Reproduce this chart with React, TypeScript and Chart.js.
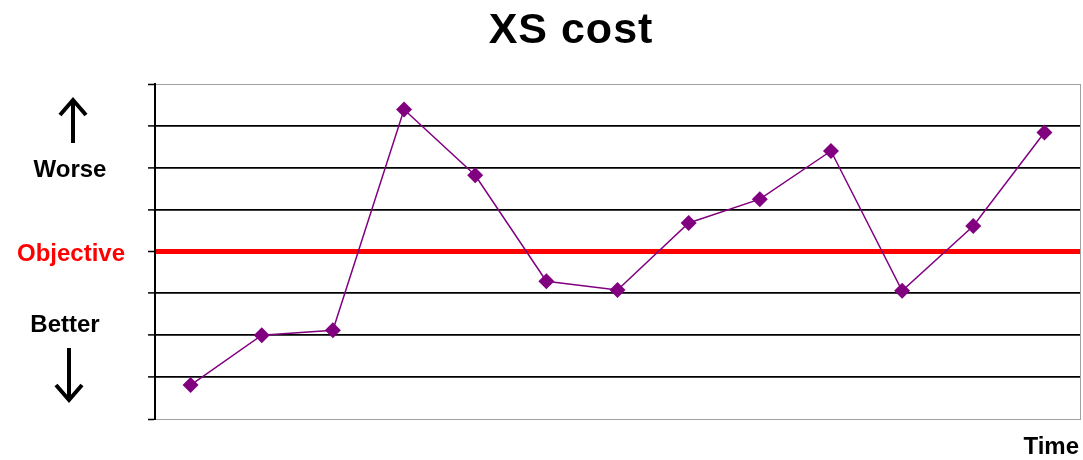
import React, { useEffect, useRef } from "react";
import { Chart, registerables } from "chart.js";

Chart.register(...registerables);

const TITLE = "XS cost";
const periods = ["1", "2", "3", "4", "5", "6", "7", "8", "9", "10", "11", "12", "13"];
const costValues = [0.81, 2.0, 2.12, 7.39, 5.82, 3.29, 3.08, 4.68, 5.25, 6.4, 3.06, 4.61, 6.84];
const OBJECTIVE = 4;
const Y_MIN = 0;
const Y_MAX = 8;
const sideLabels = ["Worse", "Objective", "Better"];
const xAxisLabel = "Time";

const FONT = "'Liberation Sans', Arial, sans-serif";

const decorPlugin = {
  id: "decor",
  afterDraw(chart: any) {
    const { ctx, chartArea } = chart;
    ctx.save();
    // right border
    ctx.strokeStyle = "#a0a0a0";
    ctx.lineWidth = 1;
    ctx.beginPath();
    ctx.moveTo(chartArea.right + 0.5, chartArea.top);
    ctx.lineTo(chartArea.right + 0.5, chartArea.bottom);
    ctx.stroke();

    // title
    ctx.fillStyle = "#000";
    ctx.textAlign = "center";
    ctx.textBaseline = "middle";
    ctx.font = `bold 43px ${FONT}`;
    try { (ctx as any).letterSpacing = "1px"; } catch (e) {}
    ctx.fillText(TITLE, 571, 31);
    try { (ctx as any).letterSpacing = "0px"; } catch (e) {}

    // side labels
    ctx.font = `bold 24px ${FONT}`;
    ctx.fillStyle = "#000";
    ctx.fillText(sideLabels[0], 70, 170);
    ctx.fillStyle = "#ff0000";
    ctx.fillText(sideLabels[1], 71, 254);
    ctx.fillStyle = "#000";
    ctx.fillText(sideLabels[2], 65, 325);

    // x label
    ctx.textAlign = "right";
    ctx.fillText(xAxisLabel, 1079, 447);

    // arrows
    ctx.strokeStyle = "#000";
    ctx.lineWidth = 4;
    ctx.lineCap = "butt";
    // up arrow
    ctx.beginPath();
    ctx.moveTo(73, 143);
    ctx.lineTo(73, 100);
    ctx.stroke();
    ctx.beginPath();
    ctx.moveTo(60, 115);
    ctx.lineTo(73, 100);
    ctx.lineTo(86, 115);
    ctx.stroke();
    // down arrow
    ctx.beginPath();
    ctx.moveTo(69, 348);
    ctx.lineTo(69, 400);
    ctx.stroke();
    ctx.beginPath();
    ctx.moveTo(56, 385);
    ctx.lineTo(69, 400);
    ctx.lineTo(82, 385);
    ctx.stroke();
    ctx.restore();
  },
};

export default function App() {
  const canvasRef = useRef<HTMLCanvasElement>(null);

  useEffect(() => {
    if (!canvasRef.current) return;
    const chart = new Chart(canvasRef.current, {
      type: "line",
      data: {
        labels: periods,
        datasets: [
          {
            label: TITLE,
            data: costValues,
            borderColor: "#800080",
            backgroundColor: "#800080",
            borderWidth: 1.5,
            pointStyle: "rectRot",
            pointRadius: 8,
            pointHoverRadius: 8,
            pointBorderWidth: 0,
            tension: 0,
          },
        ],
      },
      options: {
        responsive: false,
        animation: false,
        layout: { autoPadding: false, padding: { left: 148, top: 84, right: 3, bottom: 33 } },
        plugins: {
          legend: { display: false },
          title: { display: false },
          tooltip: { enabled: false },
        },
        scales: {
          x: {
            type: "category",
            offset: true,
            grid: { display: false },
            border: { display: true, color: "#a0a0a0", width: 1 },
            ticks: { display: false },
          },
          y: {
            min: Y_MIN,
            max: Y_MAX,
            ticks: { display: false, stepSize: 1 },
            grid: {
              drawTicks: true,
              tickLength: 7,
              tickColor: "#000",
              tickWidth: 1.5,
              color: (c: any) => {
                const v = c.tick ? c.tick.value : null;
                if (v === OBJECTIVE) return "#ff0000";
                if (v === Y_MAX || v === Y_MIN) return "#a0a0a0";
                return "#000";
              },
              lineWidth: (c: any) => {
                const v = c.tick ? c.tick.value : null;
                if (v === OBJECTIVE) return 5;
                if (v === Y_MAX || v === Y_MIN) return 1;
                return 1.8;
              },
            },
            border: { display: true, color: "#000", width: 2 },
          },
        },
      },
      plugins: [decorPlugin],
    });
    return () => chart.destroy();
  }, []);

  return (
    <div style={{ position: "fixed", left: 0, top: 0, width: 1083, height: 460, background: "#fff" }}>
      <canvas ref={canvasRef} width={1083} height={460} style={{ display: "block" }} />
    </div>
  );
}
